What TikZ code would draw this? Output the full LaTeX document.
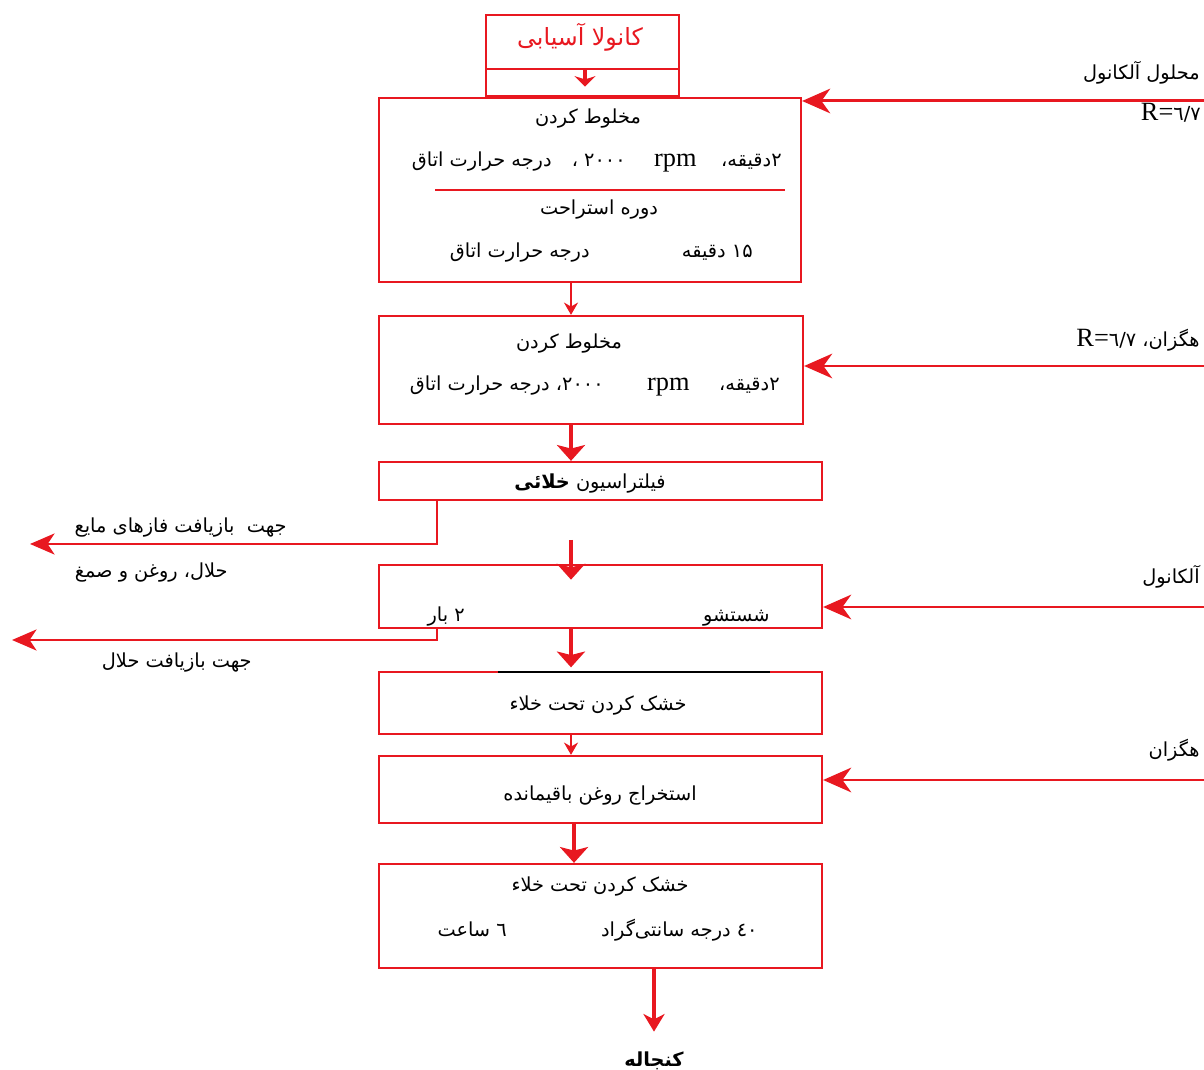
\documentclass[tikz,border=0pt]{standalone}
\usepackage{fontspec}
\setmainfont{Liberation Serif}
\newfontfamily\arab[Script=Arabic]{DejaVu Sans}
\TeXXeTstate=1
\usetikzlibrary{arrows.meta,calc}
\definecolor{rd}{RGB}{232,24,32}
\begin{document}
\begin{tikzpicture}[x=0.02cm,y=-0.02cm,
  box/.style={draw=rd, line width=1.3pt, inner sep=0pt},
  txt/.style={font=\fontsize{11}{13}\selectfont\arab, inner sep=0pt, text=black},
  lat/.style={font=\fontsize{15}{17}\selectfont\rmfamily, inner sep=0pt, text=black},
  inar/.style={draw=rd, line width=1.7pt, -{Stealth[length=16pt,width=14pt,inset=5pt]}},
  outar/.style={draw=rd, line width=1.4pt, -{Stealth[length=14pt,width=12pt,inset=4pt]}},
  thinar/.style={draw=rd, line width=1.1pt, -{Stealth[length=7pt,width=8pt]}},
  thickar/.style={draw=rd, line width=2.8pt, -{Stealth[length=9pt,width=16pt,inset=2pt]}},
  topar/.style={draw=rd, line width=2pt, -{Stealth[length=6pt,width=12pt]}},
  finar/.style={draw=rd, line width=1.8pt, -{Stealth[length=10pt,width=12pt,inset=3pt]}}]
\useasboundingbox (0,0) rectangle (1204,1070);
\begin{scope}
\clip (0,0) rectangle (1204,1070);
% columns
\coordinate (c585) at (585,0);
\coordinate (c571) at (571,0);
\coordinate (c574) at (574,0);
\coordinate (c437) at (437,0);
\coordinate (c654) at (654,0);
% boxes
\node[box, minimum width=3.86cm, minimum height=1.08cm] (topA) at (582.5,42) {};
\node[box, minimum width=3.86cm, minimum height=0.54cm] (topB) at (582.5,82.5) {};
\node[box, minimum width=8.44cm, minimum height=3.68cm] (b1) at (590,190) {};
\node[box, minimum width=8.48cm, minimum height=2.16cm] (b2) at (591,370) {};
\node[box, minimum width=8.86cm, minimum height=0.76cm] (filt) at (600.5,481) {};
\node[box, minimum width=8.86cm, minimum height=1.26cm] (wash) at (600.5,596.5) {};
\node[box, minimum width=8.86cm, minimum height=1.24cm] (dry1) at (600.5,703) {};
\node[box, minimum width=8.86cm, minimum height=1.34cm] (ext) at (600.5,789.5) {};
\node[box, minimum width=8.86cm, minimum height=2.08cm] (dry2) at (600.5,916) {};
\draw[black, line width=0.8pt] (498,672) -- (770,672);
% separator in b1
\draw[rd, line width=1.2pt] (435,190) -- (785,190);
% texts top box
\node[txt, font=\fontsize{13.5}{15}\selectfont\arab, text=rd, anchor=base] (tA) at (580,46) {\beginR کانولا آسیابی\endR};
% b1 texts
\node[txt, anchor=base] (b1l1) at (588,124) {\beginR مخلوط کردن\endR};
\node[txt, anchor=base east] (b1a) at (782,167) {۲دقیقه،};
\node[lat, anchor=base east] (b1b) at (697,167) {rpm};
\node[txt, anchor=base east] (b1c) at (626,167) {۲۰۰۰};
\node[txt, anchor=base] (b1d) at (575,167) {،};
\node[txt, anchor=base east] (b1e) at (552,167) {\beginR درجه حرارت اتاق\endR};
\node[txt, anchor=base] (b1l3) at (599,215) {\beginR دوره استراحت\endR};
\node[txt, anchor=base east] (b1f) at (753,258) {\beginR ۱۵ دقیقه\endR};
\node[txt, anchor=base east] (b1g) at (590,258) {\beginR درجه حرارت اتاق\endR};
% b2 texts
\node[txt, anchor=base] (b2l1) at (569,349) {\beginR مخلوط کردن\endR};
\node[txt, anchor=base east] (b2a) at (780,391) {۲دقیقه،};
\node[lat, anchor=base east] (b2b) at (690,391) {rpm};
\node[txt, anchor=base east] (b2c) at (604,391) {۲۰۰۰،};
\node[txt, anchor=base east] (b2e) at (550,391) {\beginR درجه حرارت اتاق\endR};
% filtration
\node[txt, anchor=base] (ft) at (590,489) {\beginR فیلتراسیون {\bfseries خلائی}\endR};
% wash
\node[txt, anchor=base east] (wt1) at (770,622) {شستشو};
\node[txt, anchor=base east] (wt2) at (465,622) {\beginR ۲ بار\endR};
% dry1
\node[txt, anchor=base] (d1t) at (598,711) {\beginR خشک کردن تحت خلاء\endR};
% ext
\node[txt, anchor=base] (et) at (600,801) {\beginR استخراج روغن باقیمانده\endR};
% dry2
\node[txt, anchor=base] (d2t) at (600,891) {\beginR خشک کردن تحت خلاء\endR};
\node[txt, anchor=base east] (d2a) at (758,936) {\beginR ٤٠ درجه سانتی‌گراد\endR};
\node[txt, anchor=base east] (d2b) at (507,936) {\beginR ٦ ساعت\endR};
% final product
\node[txt, font=\fontsize{11}{13}\selectfont\arab\bfseries, anchor=base] (kon) at (654,1066) {کنجاله};
% left outputs labels
\node[txt, anchor=base east] (lo1) at (287,533) {\beginR جهت\ \ بازیافت فازهای مایع\endR};
\node[txt, anchor=base east] (lo2) at (228,578) {\beginR حلال، روغن و صمغ\endR};
\node[txt, anchor=base east] (lo3) at (252,668) {\beginR جهت بازیافت حلال\endR};
% right input labels
\node[txt, anchor=base east] (ri1) at (1200,80) {\beginR محلول آلکانول\endR};
\node[anchor=base east, inner sep=0pt] (ri1b) at (1201,121) {\fontsize{15}{17}\selectfont R=\arab\fontsize{11}{13}\selectfont ٦/٧};
\node[anchor=base east, inner sep=0pt] (ri2) at (1200,347) {\fontsize{15}{17}\selectfont R=\arab\fontsize{11}{13}\selectfont ٦/٧ \arab هگزان،};
\node[txt, anchor=base east] (ri3) at (1200,584) {آلکانول};
\node[txt, anchor=base east] (ri4) at (1200,757) {هگزان};
% input coordinates
\coordinate (i1) at (1204,101);
\coordinate (i2) at (1204,366);
\coordinate (i3) at (1204,607);
\coordinate (i4) at (1204,780);
\coordinate (o1) at (30,544);
\coordinate (o2) at (12,640);
% connectors
\draw[topar, shorten >=6pt] (topA.south -| c585) -- (topB.south -| c585);
\draw[thinar] (b1.south -| c571) -- (b2.north -| c571);
\draw[thickar] (b2.south -| c571) -- (filt.north -| c571);
\draw[thickar, shorten <=22pt, shorten >=-9pt] (filt.south -| c571) -- (wash.north -| c571);
\draw[thickar, shorten >=2pt] (wash.south -| c571) -- (dry1.north -| c571);
\draw[thinar] (dry1.south -| c571) -- (ext.north -| c571);
\draw[thickar] (ext.south -| c574) -- (dry2.north -| c574);
\draw[finar, shorten >=11pt] (dry2.south -| c654) -- (kon.north -| c654);
\draw[outar] (filt.south -| c437) |- (o1);
\draw[outar] (wash.south -| c437) |- (o2);
\draw[inar] (i1) -- (i1 -| b1.east);
\draw[inar] (i2) -- (i2 -| b2.east);
\draw[inar] (i3) -- (i3 -| wash.east);
\draw[inar] (i4) -- (i4 -| ext.east);
\end{scope}
\end{tikzpicture}
\end{document}
